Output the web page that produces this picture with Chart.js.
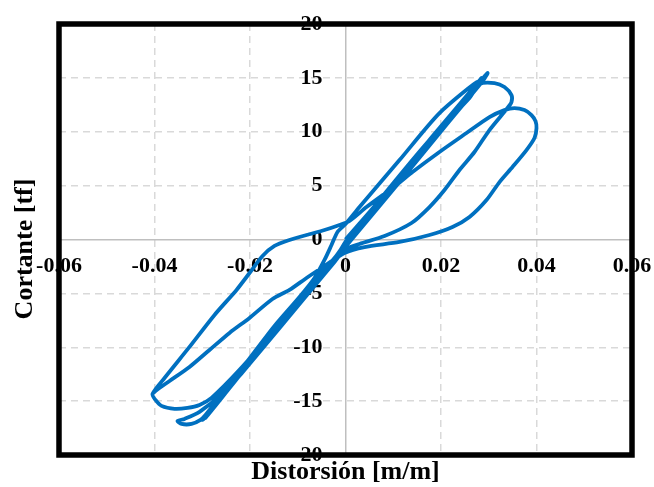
<!DOCTYPE html>
<html>
<head>
<meta charset="utf-8">
<script src="https://cdn.jsdelivr.net/npm/chart.js@4.4.0/dist/chart.umd.min.js"></script>
<style>
  html, body { margin: 0; padding: 0; background: #fff; }
  #wrap { width: 654px; height: 487px; }
</style>
</head>
<body>
<div id="wrap"><canvas id="hysteresis" width="654" height="487"></canvas></div>
<script>
// drift ratio [m/m] and shear [tf], in test order
const distortion = [
  0, 0.00503, 0.01550, 0.02387, 0.02973,
  0.02890, 0.02178, 0.01131, 0.00188, -0.00126, -0.00963, -0.02010, -0.02848, -0.02994,
  -0.02806, -0.01801, -0.00754, -0.00230, 0.00084, 0.01131, 0.02178, 0.02848,
  0.01968, 0.00921, 0.00084, -0.00544, -0.01591, -0.02534, -0.02932,
  -0.02220, -0.01173, -0.00335, 0, 0.00712, 0.01759, 0.02597, 0.02806, 0.03120, 0.03329, 0.03476, 0.03476,
  0.03392, 0.03015, 0.02701, 0.02387, 0.02073, 0.01759, 0.01382, 0.00817, 0.00293, -0.00021,
  -0.00230, -0.00754, -0.01382, -0.02010, -0.02597, -0.03057, -0.03371, -0.03518, -0.03434, -0.03225, -0.03036, -0.02932,
  -0.02680, -0.02324, -0.01906, -0.01487, -0.00963, -0.00649, -0.00440, -0.00293, -0.00168, 0,
  0.00293, 0.01131, 0.01968, 0.02764,
  0.02010, 0.01173, 0.00335, -0.00021, -0.00544, -0.01382, -0.02220, -0.02806, -0.03057, -0.03309, -0.03581, -0.03853, -0.03979, -0.04042,
  -0.03790, -0.03267, -0.02743, -0.02282, -0.02010, -0.01738, -0.01487, -0.01173, -0.00817, -0.00440, -0.00126, 0.00084,
  0.00440, 0.01068, 0.01403, 0.01968, 0.02534, 0.03015, 0.03329, 0.03539, 0.03748, 0.03895, 0.03979, 0.04000,
  0.03958, 0.03790, 0.03497, 0.03225, 0.02953, 0.02597, 0.02241, 0.01759, 0.01131, 0.00398, -0.00021,
  -0.00440, -0.00817, -0.01173, -0.01529, -0.02010, -0.02429, -0.02848, -0.03267, -0.03685, -0.03979, -0.04042
];
const cortante = [
  0, 2.55, 8.02, 12.38, 15.44,
  14.80, 10.99, 5.33, 0.32, -1.35, -5.89, -11.46, -15.91, -16.74,
  -15.82, -10.34, -4.59, -1.81, 0.32, 5.80, 11.36, 14.98,
  10.34, 4.78, -0.23, -3.29, -8.86, -14.15, -16.56,
  -12.66, -7.10, -2.37, -0.35, 3.66, 9.23, 13.13, 14.42, 14.52, 14.15, 13.40, 12.75,
  12.20, 10.16, 8.12, 6.45, 4.59, 3.01, 1.53, 0.32, -0.42, -0.97,
  -2.09, -4.87, -8.21, -11.36, -14.33, -16.00, -16.65, -16.84, -17.12, -17.12, -16.74, -16.28,
  -14.89, -12.85, -10.44, -8.02, -5.33, -3.57, -1.90, -0.51, 0.70, 1.44,
  3.01, 7.37, 11.73, 14.61,
  10.53, 5.98, 1.35, -0.60, -3.39, -7.84, -12.10, -14.70, -15.35, -15.63, -15.72, -15.44, -14.89, -14.33,
  -12.85, -9.97, -7.00, -4.68, -3.11, -1.53, -0.60, -0.05, 0.42, 0.88, 1.35, 1.72,
  3.01, 5.06, 6.26, 8.12, 9.88, 11.36, 12.01, 12.20, 12.01, 11.55, 10.99, 10.34,
  9.42, 8.30, 6.73, 5.33, 3.66, 2.09, 1.16, 0.42, -0.23, -0.70, -1.25,
  -2.46, -3.57, -4.68, -5.52, -7.28, -8.67, -10.25, -11.83, -13.13, -14.05, -14.33
];
const xTickValues = [-0.06, -0.04, -0.02, 0, 0.02, 0.04, 0.06];
const yTickValues = [-20, -15, -10, -5, 0, 5, 10, 15, 20];
const xTitle = 'Distorsión [m/m]';
const yTitle = 'Cortante [tf]';

const serif = '"Liberation Serif", "Times New Roman", serif';

const frameAndTitles = {
  id: 'frameAndTitles',
  afterDatasetsDraw(chart) {
    const { ctx, chartArea: a } = chart;
    ctx.save();
    ctx.lineWidth = 5.5;
    ctx.strokeStyle = '#000';
    ctx.strokeRect(a.left, a.top, a.right - a.left, a.bottom - a.top);
    ctx.fillStyle = '#000';
    ctx.font = 'bold 26px ' + serif;
    ctx.textAlign = 'center';
    ctx.textBaseline = 'middle';
    ctx.fillText(xTitle, (a.left + a.right) / 2, 472);
    ctx.translate(25, 249);
    ctx.rotate(-Math.PI / 2);
    ctx.fillText(yTitle, 0, 0);
    ctx.restore();
  }
};

// no extra room for the outer tick labels, the frame sits where the padding says
const noScalePadding = (scale) => {
  scale.paddingLeft = 0;
  scale.paddingRight = 0;
  scale.paddingTop = 0;
  scale.paddingBottom = 0;
};

const isZero = (c) => c.tick && c.tick.value === 0;

const chart_hyst = document.getElementById('hysteresis');

new Chart(chart_hyst, {
  type: 'scatter',
  data: {
    datasets: [{
      data: distortion.map((d, i) => ({ x: d, y: cortante[i] })),
      showLine: true,
      borderColor: '#0070C0',
      borderWidth: 3.8,
      pointRadius: 0,
      tension: 0.25,
      fill: false
    }]
  },
  options: {
    responsive: false,
    animation: false,
    layout: {
      padding: { left: 59, right: 22, top: 24, bottom: 32 }
    },
    plugins: {
      legend: { display: false },
      tooltip: { enabled: false }
    },
    scales: {
      x: {
        type: 'linear',
        min: -0.06,
        max: 0.06,
        position: { y: 0 },
        afterBuildTicks: (axis) => { axis.ticks = xTickValues.map(v => ({ value: v })); },
        afterFit: noScalePadding,
        grid: { color: (c) => isZero(c) ? '#bfbfbf' : '#d9d9d9', lineWidth: 1.5, drawTicks: false },
        border: { display: true, color: '#bfbfbf', width: 1.5, dash: (c) => isZero(c) ? [] : [7, 5] },
        ticks: {
          padding: 14,
          color: '#000',
          autoSkip: false,
          maxRotation: 0,
          font: { family: serif, size: 22, weight: 'bold' },
          callback: (v) => v === 0 ? '0' : v.toFixed(2)
        }
      },
      y: {
        type: 'linear',
        min: -20,
        max: 20,
        // labels are right-aligned on this line, a little left of the zero line
        position: { x: -0.0048 },
        afterBuildTicks: (axis) => { axis.ticks = yTickValues.map(v => ({ value: v })); },
        afterFit: noScalePadding,
        grid: { color: (c) => isZero(c) ? 'rgba(0,0,0,0)' : '#d9d9d9', lineWidth: 1.5, drawTicks: false },
        border: { display: false, dash: [7, 5] },
        ticks: {
          color: '#000',
          autoSkip: false,
          font: { family: serif, size: 22, weight: 'bold' },
          callback: (v) => String(v)
        }
      }
    }
  },
  plugins: [frameAndTitles]
});
</script>
</body>
</html>
